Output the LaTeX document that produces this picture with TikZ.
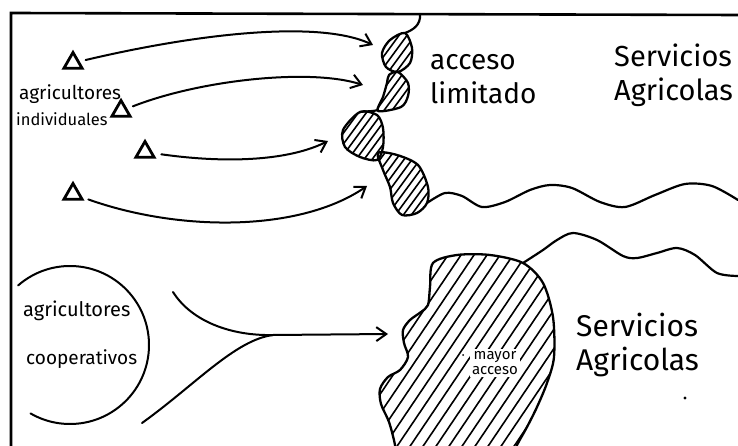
\documentclass[tikz,border=0pt]{standalone}
\usepackage{fontspec}
\setmainfont{Fira Sans}
\usetikzlibrary{arrows.meta,shapes.geometric}
\tikzset{
  frame/.style={line width=2.6pt},
  outline/.style={line width=2.3pt, line join=round},
  wave/.style={line width=2.2pt, line cap=round},
  hatchline/.style={line width=1.6pt},
  tri/.style={draw, regular polygon, regular polygon sides=3, minimum size=21pt, inner sep=0pt, line width=2.8pt},
  arr/.style={line width=2pt, line cap=round, -{Straight Barb[length=10pt,width=14pt,line width=2pt]}},
  plain/.style={line width=2pt, line cap=round},
  lbl/.style={anchor=base west, inner sep=0pt},
}
\newcommand{\fs}[1]{\fontsize{#1}{#1}\selectfont}
\begin{document}
\begin{tikzpicture}[x=1pt,y=-1pt]
\useasboundingbox (0,0) rectangle (738,446);
\clip (0,0) rectangle (738,446);
\fill[white] (0,0) rectangle (738,446);
% frame
\draw[frame] (11,446) -- (11,13) -- (738,15);

% triangles
\node[tri] (t1) at (73,63) {};
\node[tri] (t2) at (121,111) {};
\node[tri] (t3) at (145,152) {};
\node[tri] (t4) at (73,194) {};

\node[lbl] (ai) at (19,100) {\fs{19}agricultores};
\node[lbl] (ii) at (16,126) {\fs{16.5}individuales};

% arrow ends
\coordinate (e1) at (373,45);
\coordinate (e2) at (363,85);
\coordinate (e3) at (328,141);
\coordinate (e4) at (367,186);
\draw[arr, shorten <=6pt] (t1) .. controls (200,33) and (320,20) .. (e1);
\draw[arr, shorten <=6pt] (t2) .. controls (200,80) and (310,68) .. (e2);
\draw[arr, shorten <=8pt] (t3) .. controls (230,164) and (290,160) .. (e3);
\draw[arr, shorten <=6pt] (t4) .. controls (180,232) and (300,232) .. (e4);

% upper hatched lobes
\begin{scope}
  \clip plot[smooth cycle] coordinates {(405,33) (412,48) (410,63) (398,72) (386,67) (382,53) (390,40)}
        plot[smooth cycle] coordinates {(398,72) (408,83) (408,96) (401,107) (378,111) (383,97) (387,83) (389,75)}
        plot[smooth cycle] coordinates {(360,112) (377,115) (383,128) (383,147) (377,160) (360,157) (345,147) (343,130)}
        plot[smooth cycle] coordinates {(378,153) (397,155) (418,165) (428,187) (427,203) (417,213) (402,215) (393,203) (390,187) (383,170)};
  \foreach \k in {180,188,...,440} \draw[hatchline] (\k,225) -- ++(165,-225);
\end{scope}
\draw[outline] plot[smooth cycle] coordinates {(405,33) (412,48) (410,63) (398,72) (386,67) (382,53) (390,40)};
\draw[outline] plot[smooth cycle] coordinates {(398,72) (408,83) (408,96) (401,107) (378,111) (383,97) (387,83) (389,75)};
\draw[outline] plot[smooth cycle] coordinates {(360,112) (377,115) (383,128) (383,147) (377,160) (360,157) (345,147) (343,130)};
\draw[outline] plot[smooth cycle] coordinates {(378,153) (397,155) (418,165) (428,187) (427,203) (417,213) (402,215) (393,203) (390,187) (383,170)};
\draw[wave] (420,14) .. controls (421,25) and (413,30) .. (405,33);
\draw[wave] (378,110) .. controls (370,112) and (365,111) .. (360,112);
\draw[wave] plot[smooth] coordinates {(427,203) (445,193) (462,196) (482,207) (505,202) (530,190) (550,185) (572,188) (600,202) (625,207) (655,195) (685,184) (712,186) (738,200)};

\node[lbl] (acc) at (430,70) {\fs{28}acceso};
\node[lbl] (lim) at (430,104) {\fs{28}limitado};
\node[lbl] (s1) at (614,67) {\fs{29}Servicios};
\node[lbl] (a1) at (614,101) {\fs{29}Agricolas};

% lower circle
\coordinate (cc) at (70,345);
\draw[plain] (cc) ++(131:79pt) arc[start angle=131, end angle=-120, radius=79pt];
\node[lbl] (ac) at (23,316) {\fs{20}agricultores};
\node[lbl] (co) at (26,364) {\fs{19}cooperativos};

% converging arrow
\coordinate (u0) at (173,292);
\coordinate (l0) at (142,423);
\coordinate (j) at (273,335);
\coordinate (e5) at (388,334);
\draw[arr] (u0) .. controls (192,322) and (232,336) .. (j) -- (e5);
\draw[plain] (l0) .. controls (195,385) and (235,340) .. (j);

% lower blob
\begin{scope}
  \clip plot[smooth cycle] coordinates {(433,263) (457,255) (490,255) (523,263) (543,283) (553,317) (554,357) (547,383) (537,407) (527,427) (517,445) (505,470) (398,470) (395,445) (389,422) (381,404) (380,389) (388,377) (400,370) (408,357) (404,343) (403,330) (410,320) (421,312) (428,305) (430,287)};
  \foreach \k in {160,173,...,580} \draw[hatchline] (\k,470) -- ++(317,-470);
\end{scope}
\draw[outline] plot[smooth cycle] coordinates {(433,263) (457,255) (490,255) (523,263) (543,283) (553,317) (554,357) (547,383) (537,407) (527,427) (517,445) (505,470) (398,470) (395,445) (389,422) (381,404) (380,389) (388,377) (400,370) (408,357) (404,343) (403,330) (410,320) (421,312) (428,305) (430,287)};
\draw[wave] plot[smooth] coordinates {(523,263) (543,250) (557,240) (573,233) (597,240) (623,256) (637,258) (657,253) (677,248) (695,255) (717,273) (738,276)};
\node[fill=white, inner sep=2pt, align=center, font=\fs{15}] (ma) at (495,363) {mayor\\acceso};
\fill (463,355) circle (1pt);

\node[lbl] (s2) at (576,336) {\fs{30}Servicios};
\node[lbl] (a2) at (576,370) {\fs{30}Agricolas};
\fill (685,398) circle (1.6pt);
\end{tikzpicture}
\end{document}
